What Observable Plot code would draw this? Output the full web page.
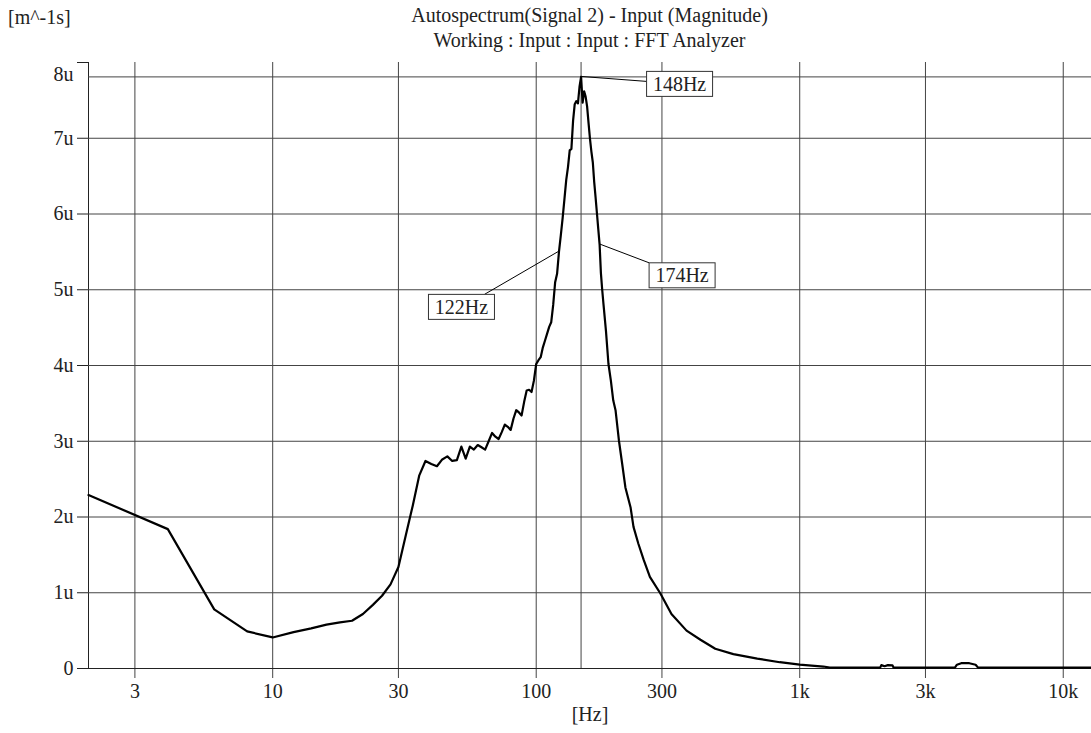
<!DOCTYPE html>
<html><head><meta charset="utf-8">
<script src="https://cdn.jsdelivr.net/npm/d3@7"></script>
<script src="https://cdn.jsdelivr.net/npm/@observablehq/plot@0.6"></script>
<style>
body{margin:0;background:#fff;font-family:"Liberation Serif",serif;}
#wrap{width:1091px;}
#head{position:relative;height:52px;font-size:20px;color:#222;}
#unit{position:absolute;left:8px;top:6px;}
#title{position:absolute;left:88px;right:0;top:3px;text-align:center;line-height:25px;}
</style></head><body>
<div id="wrap"><div id="head"><div id="unit"></div><div id="title"></div></div><div id="chart"></div></div>
<script>
const titleText = "Autospectrum(Signal 2) - Input (Magnitude)";
const subtitleText = "Working : Input : Input : FFT Analyzer";
const yUnit = "[m^-1s]";
const xUnit = "[Hz]";

// frequency (Hz) and magnitude (in u = 1e-6 m^-1 s)
const freq = [2,4,6,8,10,12,14,16,18,20,22,24,26,28,30,32,34,36,38,40,42,44,46,48,50,52,54,56,58,60,62,64,66,68,70,72,74,76,78,80,82,84,86,88,90,92,94,96,98,100,102,104,106,108,110,112,114,116,118,120,122,124,126,128,130,132,134,136,138,140,142,144,146,148,150,152,154,156,158,160,162,164,166,168,170,172,174,176,178,180,184,188,192,196,200,206,212,218,228,234,244,256,270,296,326,372,420,478,560,690,840,1000,1230,1300,2020,2040,2100,2160,2250,2270,3880,3950,4100,4400,4650,4750,12800];
const mag = [2.29,1.84,0.78,0.49,0.41,0.48,0.53,0.58,0.61,0.63,0.72,0.84,0.96,1.11,1.34,1.76,2.15,2.55,2.74,2.70,2.67,2.76,2.80,2.74,2.75,2.93,2.77,2.93,2.89,2.95,2.92,2.89,3.00,3.11,3.06,3.03,3.12,3.22,3.19,3.15,3.30,3.41,3.38,3.34,3.52,3.67,3.68,3.65,3.80,4.02,4.07,4.11,4.24,4.33,4.42,4.51,4.57,4.80,5.10,5.21,5.50,5.72,5.95,6.20,6.45,6.62,6.84,6.86,7.23,7.45,7.49,7.46,7.68,7.81,7.47,7.62,7.55,7.42,7.20,6.99,6.82,6.68,6.42,6.22,6.01,5.80,5.60,5.22,5.00,4.81,4.45,4.02,3.80,3.54,3.41,3.01,2.70,2.39,2.13,1.87,1.65,1.43,1.21,0.99,0.72,0.50,0.38,0.26,0.19,0.13,0.083,0.052,0.026,0.012,0.012,0.045,0.03,0.045,0.04,0.012,0.012,0.05,0.07,0.07,0.05,0.012,0.012];

const xTicks = [3,10,30,100,300,1000,3000,10000];
const xTickLabels = ["3","10","30","100","300","1k","3k","10k"];
const yTicks = [0,1,2,3,4,5,6,7,8];
const yTickLabels = ["0","1u","2u","3u","4u","5u","6u","7u","8u"];
const cursorFreq = 148;
const markerFreqs = [148,122,174];
const markerLabels = ["148Hz","122Hz","174Hz"];

document.getElementById("unit").textContent = yUnit;
[titleText, subtitleText].forEach(t => { const d = document.createElement("div"); d.textContent = t; document.getElementById("title").appendChild(d); });

const data = freq.map((f, i) => ({f, v: mag[i]}));
const peakV = mag[freq.indexOf(cursorFreq)];
const gridColor = "#444";
const ink = "#222";

const plot = Plot.plot({
  width: 1091, height: 681,
  marginTop: 10, marginBottom: 65, marginLeft: 88, marginRight: 0,
  style: {fontFamily: '"Liberation Serif", serif', fontSize: "20px", color: ink, background: "#fff", overflow: "visible"},
  x: {type: "log", domain: [2, 12800], axis: null},
  y: {domain: [0, 8], ticks: yTicks, tickFormat: d => d === 8 ? "" : yTickLabels[yTicks.indexOf(d)], tickSize: 11, tickPadding: 4, label: null, line: true},
  marks: [
    Plot.ruleY(yTicks.filter(d => d > 0 && d < 8), {stroke: gridColor, strokeWidth: 1}),
    Plot.ruleX(xTicks, {stroke: gridColor, strokeWidth: 1, insetBottom: -10}),
    Plot.ruleX([cursorFreq], {stroke: gridColor, strokeWidth: 1}),
    Plot.ruleY([peakV], {stroke: gridColor, strokeWidth: 1}),
    Plot.ruleY([0], {stroke: ink, strokeWidth: 1}),
    Plot.line(data, {x: "f", y: "v", stroke: "#000", strokeWidth: 2.2}),
    Plot.text(xTicks, {x: d => d, frameAnchor: "bottom", text: d => xTickLabels[xTicks.indexOf(d)], dy: 29, fill: ink}),
    Plot.text([8], {y: d => d, frameAnchor: "left", text: d => yTickLabels[yTicks.indexOf(d)], textAnchor: "end", dx: -15, dy: 12, fill: ink}),
    Plot.text([xUnit], {frameAnchor: "bottom", text: d => d, dy: 52, fill: ink})
  ]
});
document.getElementById("chart").appendChild(plot);

// callouts: box offsets (px) relative to the marked point, and leader attach point inside the box
const calloutStyle = [
  {bx: 66, by: -5, ax: 0, ay: 10},
  {bx: -130, by: 43, ax: 56, ay: 0},
  {bx: 50, by: 19, ax: 0, ay: 0}
];
const sx = plot.scale("x"), sy = plot.scale("y");
const g = d3.select(plot).append("g").attr("class", "callouts");
markerFreqs.forEach((f, i) => {
  const v = mag[freq.indexOf(f)];
  const px = sx.apply(f), py = sy.apply(v);
  const s = calloutStyle[i];
  const bw = 66, bh = 25;
  const x0 = px + s.bx, y0 = py + s.by;
  g.append("line").attr("x1", px).attr("y1", py).attr("x2", x0 + s.ax).attr("y2", y0 + s.ay)
    .attr("stroke", "#000").attr("stroke-width", 1);
  g.append("rect").attr("x", x0).attr("y", y0).attr("width", bw).attr("height", bh)
    .attr("fill", "#fff").attr("stroke", "#333").attr("stroke-width", 1);
  g.append("text").attr("x", x0 + bw / 2).attr("y", y0 + bh / 2).attr("dy", "0.35em")
    .attr("text-anchor", "middle").attr("fill", ink).text(markerLabels[i]);
});
</script>
</body></html>
